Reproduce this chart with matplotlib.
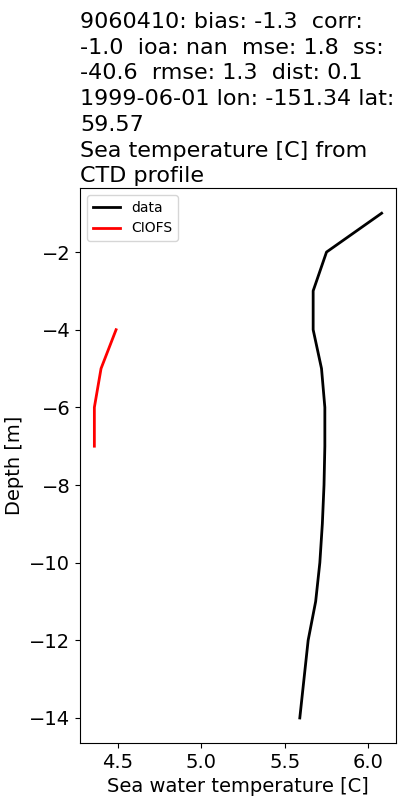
import matplotlib
matplotlib.use("Agg")
import matplotlib.pyplot as plt

# CTD profile (data) and model (CIOFS)
data_depth = [-1, -2, -3, -4, -5, -6, -7, -8, -9, -10, -11, -12, -13, -14]
data_temp = [6.08, 5.75, 5.67, 5.67, 5.72, 5.74, 5.74, 5.735, 5.725, 5.71, 5.685, 5.64, 5.615, 5.59]

model_depth = [-4, -5, -6, -7]
model_temp = [4.49, 4.40, 4.36, 4.36]

title = ("9060410: bias: -1.3  corr:\n-1.0  ioa: nan  mse: 1.8  ss:\n"
         "-40.6  rmse: 1.3  dist: 0.1\n1999-06-01 lon: -151.34 lat:\n59.57\n"
         "Sea temperature [C] from\nCTD profile")

fig = plt.figure(figsize=(4, 8), dpi=100)
ax = fig.add_axes([0.2, 0.071, 0.79, 0.694])

ax.plot(data_temp, data_depth, color="k", lw=2, label="data")
ax.plot(model_temp, model_depth, color="r", lw=2, label="CIOFS")

ax.set_title(title, loc="left", fontsize=16, pad=4, linespacing=1.36)
ax.set_xlabel("Sea water temperature [C]", fontsize=14)
ax.set_ylabel("Depth [m]", fontsize=14)
ax.tick_params(labelsize=14)
ax.legend(loc="upper left", fontsize=10)

fig.savefig("out.png", dpi=100)
